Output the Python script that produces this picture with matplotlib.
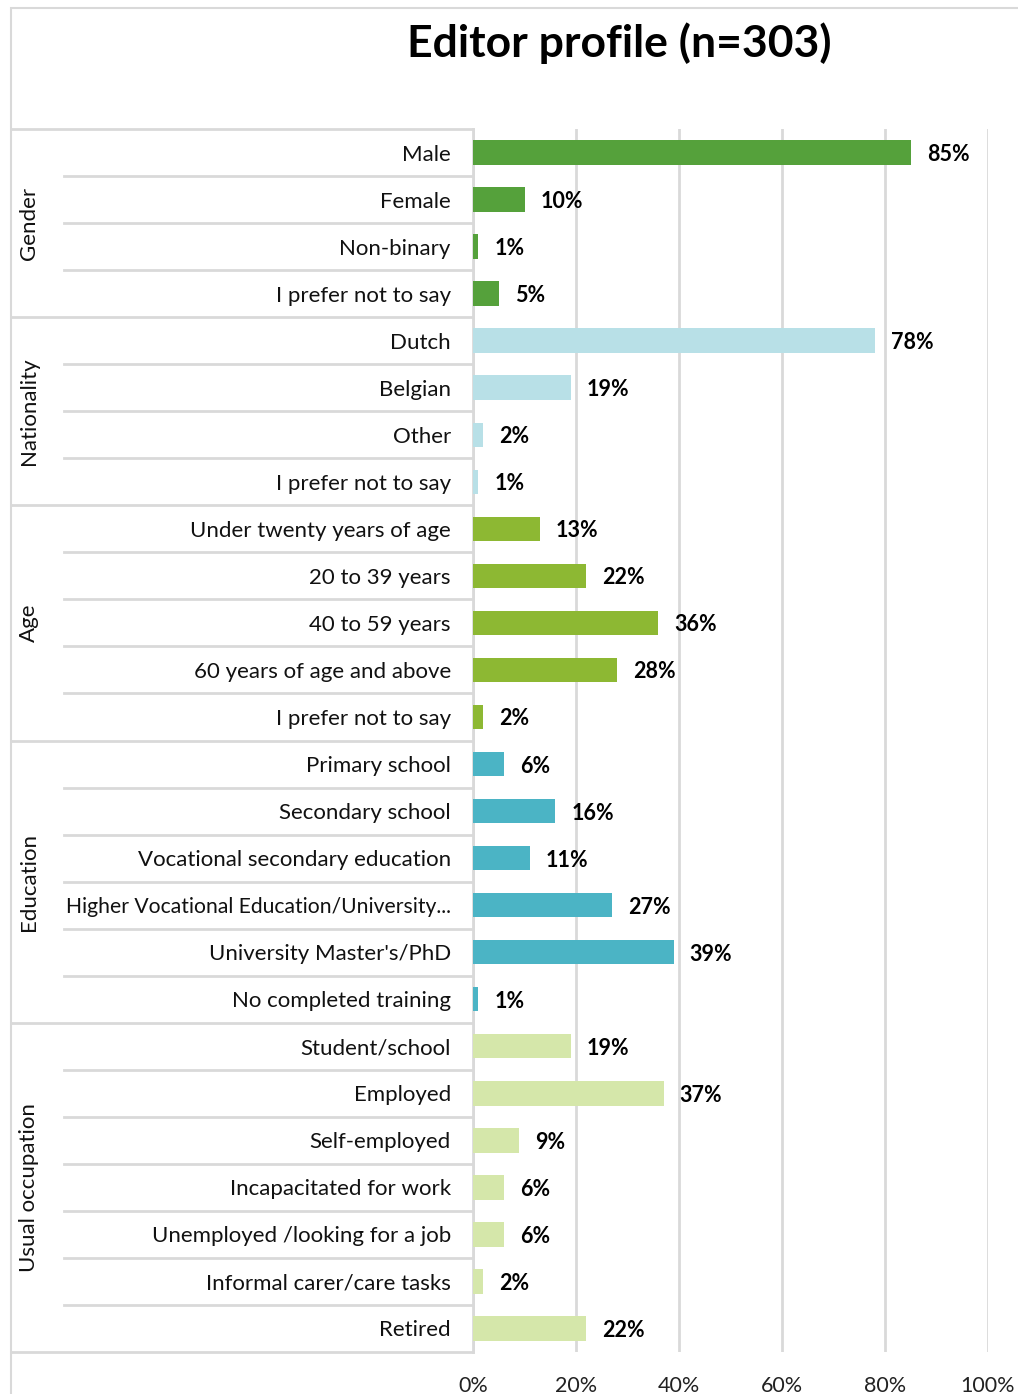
import matplotlib.pyplot as plt
import matplotlib.transforms as mtransforms
from matplotlib.patches import Rectangle

plt.rcParams['font.family'] = ['Lato', 'DejaVu Sans']

# data
gender = ["Male", "Female", "Non-binary", "I prefer not to say"]
gender_vals = [85, 10, 1, 5]
nationality = ["Dutch", "Belgian", "Other", "I prefer not to say"]
nationality_vals = [78, 19, 2, 1]
age = ["Under twenty years of age", "20 to 39 years", "40 to 59 years",
       "60 years of age and above", "I prefer not to say"]
age_vals = [13, 22, 36, 28, 2]
education = ["Primary school", "Secondary school", "Vocational secondary education",
             "Higher Vocational Education/University...", "University Master's/PhD",
             "No completed training"]
education_vals = [6, 16, 11, 27, 39, 1]
occupation = ["Student/school", "Employed", "Self-employed", "Incapacitated for work",
              "Unemployed /looking for a job", "Informal carer/care tasks", "Retired"]
occupation_vals = [19, 37, 9, 6, 6, 2, 22]

groups = ["Gender", "Nationality", "Age", "Education", "Usual occupation"]
group_cats = [gender, nationality, age, education, occupation]
group_vals = [gender_vals, nationality_vals, age_vals, education_vals, occupation_vals]
group_colors = ["#55A13B", "#B8E0E7", "#8DB833", "#4BB4C5", "#D5E7AA"]

W, H = 1018, 1394
fig = plt.figure(figsize=(W / 100, H / 100), dpi=100)
ax = fig.add_axes([473 / W, 1 - 1352 / H, (988 - 473) / W, (1352 - 129) / H])

labels, vals, colors = [], [], []
for cats, v, c in zip(group_cats, group_vals, group_colors):
    labels += cats
    vals += v
    colors += [c] * len(cats)
n = len(labels)
ypos = list(range(n))

ax.barh(ypos, vals, height=0.52, color=colors, zorder=3)
for y, v in zip(ypos, vals):
    ax.annotate(f"{v}%", (v, y), xytext=(11.5, 0), textcoords="offset points",
                ha="left", va="center_baseline", fontsize=15.5, fontweight="bold",
                color="black")

ax.set_xlim(0, 100)
ax.set_ylim(n - 0.5, -0.5)
ax.set_xticks([0, 20, 40, 60, 80, 100])
ax.set_xticklabels([f"{t}%" for t in [0, 20, 40, 60, 80, 100]], fontsize=15.5, color="#222222")
ax.set_yticks(ypos)
ax.set_yticklabels(labels, fontsize=16, color="#111111", va="center_baseline")
# the long truncated label is a bit narrower in the original
for t in ax.get_yticklabels():
    if t.get_text().endswith("..."):
        t.set_fontsize(15.2)
ax.tick_params(axis="y", length=0, pad=16)
ax.tick_params(axis="x", length=0, pad=17)
ax.xaxis.grid(True, color="#D9D9D9", linewidth=2, zorder=0)
for s in ax.spines.values():
    s.set_visible(False)

# label table lines
tr = mtransforms.blended_transform_factory(fig.transFigure, ax.transData)
start = 0
bounds = [start]
for cats in group_cats:
    start += len(cats)
    bounds.append(start)
for i in range(n + 1):
    y = i - 0.5
    x0 = 11 / W if i in bounds else 64 / W
    ax.plot([x0, 473 / W], [y, y], transform=tr, color="#D9D9D9", lw=2,
            clip_on=False, zorder=1)
ax.plot([473 / W, 473 / W], [-0.5, n - 0.5], transform=tr, color="#D9D9D9", lw=2,
        clip_on=False, zorder=1)

# group labels
for g, b0, b1 in zip(groups, bounds[:-1], bounds[1:]):
    ax.text(29 / W, (b0 + b1 - 1) / 2, g, transform=tr, rotation=90, ha="center",
            va="center", fontsize=16, color="#111111")

# outer chart border
fig.patches.append(Rectangle((11 / W, -0.1), 1.2, 1.1 - 8 / H, transform=fig.transFigure,
                             fill=False, edgecolor="#D9D9D9", lw=1.5))

fig.text(619 / W, 1 - 43 / H, "Editor profile (n=303)", ha="center", va="center",
         fontsize=32, fontweight="bold", color="black")

fig.savefig("out.png", dpi=100, facecolor="white")
